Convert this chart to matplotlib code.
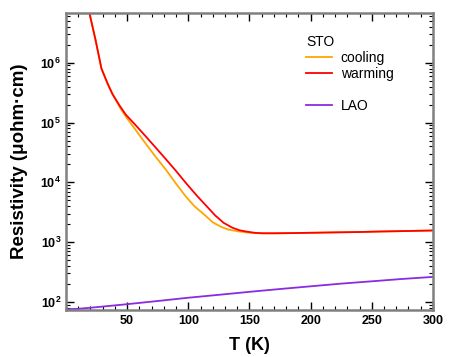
import numpy as np
import matplotlib.pyplot as plt
from matplotlib.lines import Line2D
from matplotlib.ticker import LogLocator, MultipleLocator, NullFormatter

plt.rcParams['font.family'] = ['Liberation Sans', 'DejaVu Sans']

# warming curve (STO)
T_warm = [19, 24, 29, 34, 38, 44, 49, 56, 63, 72, 82, 90, 98, 107, 115, 122, 129, 136, 142,
          148, 155, 161, 170, 185, 203, 220, 240, 257, 280, 300]
R_warm = [7.0e6, 2.5e6, 8.0e5, 4.5e5, 3.0e5, 1.9e5, 1.35e5, 9.5e4, 6.6e4, 4.1e4, 2.4e4,
          1.55e4, 9.8e3, 6.0e3, 4.0e3, 2.8e3, 2.1e3, 1.75e3, 1.58e3, 1.5e3, 1.43e3, 1.41e3,
          1.41e3, 1.42e3, 1.44e3, 1.46e3, 1.48e3, 1.51e3, 1.54e3, 1.57e3]

# cooling curve (STO)
T_cool = [19, 24, 29, 34, 38, 44, 49, 56, 63, 72, 82, 90, 98, 105, 113, 120, 127, 133,
          140, 147, 153, 160, 170, 185, 203, 220, 240, 257, 280, 300]
R_cool = [7.0e6, 2.5e6, 8.0e5, 4.5e5, 3.0e5, 1.8e5, 1.25e5, 8.0e4, 5.1e4, 2.9e4, 1.6e4,
          9.5e3, 5.8e3, 4.0e3, 2.9e3, 2.15e3, 1.8e3, 1.62e3, 1.53e3, 1.46e3, 1.43e3, 1.41e3,
          1.41e3, 1.42e3, 1.44e3, 1.46e3, 1.48e3, 1.51e3, 1.54e3, 1.57e3]

# LAO
T_lao = [2, 10, 25, 50, 75, 100, 125, 150, 175, 200, 225, 250, 275, 300]
R_lao = [76, 77, 82, 92, 104, 118, 132, 148, 165, 183, 203, 222, 243, 263]

fig = plt.figure(figsize=(4.63, 3.57), dpi=100)
ax = fig.add_axes([0.1425, 0.1317, 0.7925, 0.832])

ax.plot(T_cool, R_cool, color='#ffa500', lw=1.3)
ax.plot(T_warm, R_warm, color='#ff0000', lw=1.3)
ax.plot(T_lao, R_lao, color='#8a2be2', lw=1.3)

ax.set_yscale('log')
ax.set_xlim(0, 300)
ax.set_ylim(73.6, 6.8e6)

ax.xaxis.set_major_locator(MultipleLocator(50))
ax.xaxis.set_minor_locator(MultipleLocator(10))
ax.yaxis.set_major_locator(LogLocator(base=10, numticks=10))
ax.yaxis.set_minor_locator(LogLocator(base=10, subs=np.arange(2, 10), numticks=10))
ax.yaxis.set_minor_formatter(NullFormatter())

ax.tick_params(which='both', direction='in', top=True, right=True, color='black')
ax.tick_params(which='major', length=6, width=1)
ax.tick_params(which='minor', length=3, width=0.8)
ax.tick_params(labelsize=9)
for lab in ax.get_xticklabels() + ax.get_yticklabels():
    lab.set_fontweight('bold')
ax.set_xticks([50, 100, 150, 200, 250, 300])

for s in ax.spines.values():
    s.set_color('#808080')
    s.set_linewidth(1.8)

ax.set_xlabel('T (K)', fontsize=13, fontweight='bold', labelpad=7)
ax.set_ylabel('Resistivity (μohm·cm)', fontsize=13.5, fontweight='bold', labelpad=9)

handles = [Line2D([], [], color='#ffa500', lw=1.3),
           Line2D([], [], color='#ff0000', lw=1.3),
           Line2D([], [], color='none'),
           Line2D([], [], color='#8a2be2', lw=1.3)]
labels = ['cooling', 'warming', '', 'LAO']
leg = ax.legend(handles, labels, title='STO', loc='upper left', bbox_to_anchor=(0.635, 0.95),
                frameon=False, fontsize=10, title_fontsize=10, handlelength=1.9,
                handletextpad=0.6, labelspacing=0.15, borderpad=0)
leg._legend_box.align = 'left'

fig.savefig('out.png', dpi=100)
